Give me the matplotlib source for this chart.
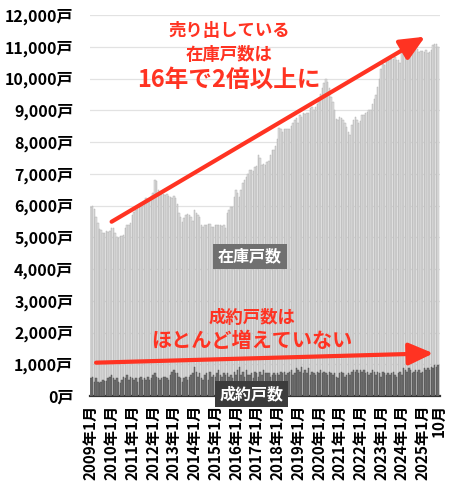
import numpy as np
import matplotlib
matplotlib.use("Agg")
import matplotlib.pyplot as plt

plt.rcParams['font.family'] = ['Noto Sans CJK JP', 'DejaVu Sans']

# 月ラベル 2009年1月 - 2025年10月
years = list(range(2009, 2026))
months = [(y, m) for y in years for m in range(1, 13) if not (y == 2025 and m > 10)]

# 在庫戸数 (月次)
stock = [
    5950, 5970, 5880, 5650, 5450, 5250, 5230, 5150, 5150, 5200, 5180, 5200,   # 2009
    5300, 5300, 5150, 5000, 4970, 5040, 5050, 5060, 5300, 5380, 5380, 5450,   # 2010
    5700, 5800, 5850, 5900, 5970, 6050, 6050, 6150, 6250, 6200, 6200, 6300,   # 2011
    6390, 6800, 6780, 6480, 6400, 6350, 6350, 6320, 6350, 6300, 6280, 6250,   # 2012
    6300, 6250, 6050, 5760, 5650, 5480, 5600, 5700, 5720, 5700, 5650, 5500,   # 2013
    5860, 5750, 5700, 5650, 5400, 5330, 5380, 5400, 5420, 5420, 5330, 5330,   # 2014
    5380, 5380, 5400, 5380, 5350, 5400, 5300, 5750, 5860, 5960, 5960, 6270,   # 2015
    6480, 6400, 6270, 6480, 6700, 6800, 6900, 7000, 7110, 7130, 7100, 7220,   # 2016
    7250, 7580, 7490, 7270, 7300, 7270, 7380, 7400, 7590, 7750, 7750, 7860,   # 2017
    8110, 8430, 8400, 8330, 8400, 8400, 8400, 8420, 8490, 8600, 8700, 8750,   # 2018
    8600, 8850, 8800, 8900, 8880, 8900, 8900, 9060, 9110, 9000, 9100, 9200,   # 2019
    9300, 9500, 9700, 9850, 10000, 9900, 9700, 9430, 9270, 9000, 8740, 8690,  # 2020
    8790, 8750, 8690, 8590, 8480, 8320, 8220, 8530, 8690, 8790, 8700, 8590,   # 2021
    8650, 8850, 8850, 8900, 8950, 9000, 9000, 9210, 9370, 9470, 9740, 10000,  # 2022
    10310, 10470, 10420, 10520, 10570, 10630, 10630, 10630, 10680, 10600, 10570, 10500,  # 2023
    11000, 11210, 11100, 11000, 10900, 10920, 10920, 10900, 10950, 10920, 10840, 10870,  # 2024
    10870, 10840, 10900, 10790, 10850, 10900, 11050, 11100, 11080, 11000,     # 2025
]

# 成約戸数 (月次)
sold = [
    560, 610, 450, 560, 450, 400, 450, 500, 480, 480,
    560, 610, 660, 560, 500, 560, 450, 400, 500, 610,
    560, 660, 500, 610, 560, 500, 560, 450, 560, 610,
    500, 560, 500, 610, 500, 560, 660, 710, 610, 560,
    500, 560, 610, 610, 560, 500, 660, 770, 820, 710,
    710, 610, 560, 450, 560, 610, 500, 610, 660, 710,
    920, 770, 610, 710, 560, 500, 660, 710,
    503, 765, 608, 660, 608, 713, 817, 660, 608, 713,
    660, 713, 608, 660, 555, 765, 660, 817, 922, 660,
    765, 608, 817, 660, 660, 713, 555, 765, 713, 608,
    765, 660, 817, 713, 713, 713, 608, 660, 713, 660,
    713, 660, 765, 713, 765, 660, 713, 765, 817, 660,
    713, 870, 817, 765, 922, 713, 817, 713, 870, 660,
    765, 713, 660, 765, 713, 817, 713,
    765, 713, 660, 765, 713, 660, 713, 608, 555, 713,
    765, 713, 608, 660, 713, 660, 765, 817, 765, 817,
    713, 817, 765, 817, 713, 765, 660, 713, 817, 765,
    660, 765, 713, 608, 765, 713, 660, 713, 660, 713,
    765, 660, 608, 713, 765, 660, 870, 817, 765, 870,
    817, 713, 765, 817, 765, 817, 713, 765, 870, 817,
    870, 817, 922, 870, 975, 922, 975,
]

red = '#ff3322'
x = np.arange(len(months))

fig = plt.figure(figsize=(4.5, 4.96), dpi=100)
ax = fig.add_axes([0.2, 0.2016, 0.778, 0.768])

ax.bar(x, stock, width=0.85, color='#dedede', edgecolor='#ababab', linewidth=0.3, zorder=2)
ax.bar(x, sold, width=0.85, color='#747474', edgecolor='#4a4a4a', linewidth=0.3, zorder=3)

ax.set_xlim(-0.5, len(months) + 0.1)
ax.set_ylim(0, 12000)
ax.set_yticks(range(0, 12001, 1000))
ax.set_yticklabels([f'{v:,}戸' for v in range(0, 12001, 1000)], fontsize=11.5, fontweight='bold')
ax.grid(axis='y', color='#e2e2e2', linewidth=0.9)
ax.set_axisbelow(True)

tick_pos = [i for i, (yy, mm) in enumerate(months) if mm == 1] + [len(months) - 1]
tick_lab = [f'{yy}年1月' for (yy, mm) in months if mm == 1] + ['10月']
ax.set_xticks(tick_pos)
ax.set_xticklabels(tick_lab, rotation=90, fontsize=11, fontweight='bold', va='top', ha='center')
ax.tick_params(axis='both', length=0)
ax.tick_params(axis='y', pad=12)
ax.tick_params(axis='x', pad=6)

for s in ['top', 'right', 'left']:
    ax.spines[s].set_visible(False)
ax.spines['bottom'].set_color('#333333')
ax.spines['bottom'].set_linewidth(1.6)

# 矢印
arrow = dict(arrowstyle='-|>,head_length=1.0,head_width=0.45', color=red, lw=3,
             mutation_scale=15, shrinkA=0, shrinkB=0)
ax.annotate('', xy=(193.4, 11320), xytext=(12, 5490), arrowprops=arrow, zorder=6)
ax.annotate('', xy=(198.2, 1345), xytext=(3, 1050), arrowprops=arrow, zorder=6)

# 注釈テキスト
ax.text(80, 11500, '売り出している', color=red, fontsize=12.5, fontweight='bold', ha='center', va='center', zorder=7)
ax.text(80, 10750, '在庫戸数は', color=red, fontsize=12.5, fontweight='bold', ha='center', va='center', zorder=7)
ax.text(80, 9950, '16年で2倍以上に', color=red, fontsize=17, fontweight='bold', ha='center', va='center', zorder=7)
ax.text(93, 2450, '成約戸数は', color=red, fontsize=12.5, fontweight='bold', ha='center', va='center', zorder=7)
ax.text(93, 1750, 'ほとんど増えていない', color=red, fontsize=14.5, fontweight='bold', ha='center', va='center', zorder=7)

ax.text(92, 4400, '在庫戸数', color='white', fontsize=11.5, fontweight='bold', ha='center', va='center', zorder=7,
        bbox=dict(boxstyle='square,pad=0.3', fc='#707070', ec='none'))
ax.text(93, 60, '成約戸数', color='white', fontsize=11.5, fontweight='bold', ha='center', va='center', zorder=7,
        bbox=dict(boxstyle='square,pad=0.3', fc='#3c3c3c', ec='none'), clip_on=False)

fig.savefig('out.png', dpi=100)
